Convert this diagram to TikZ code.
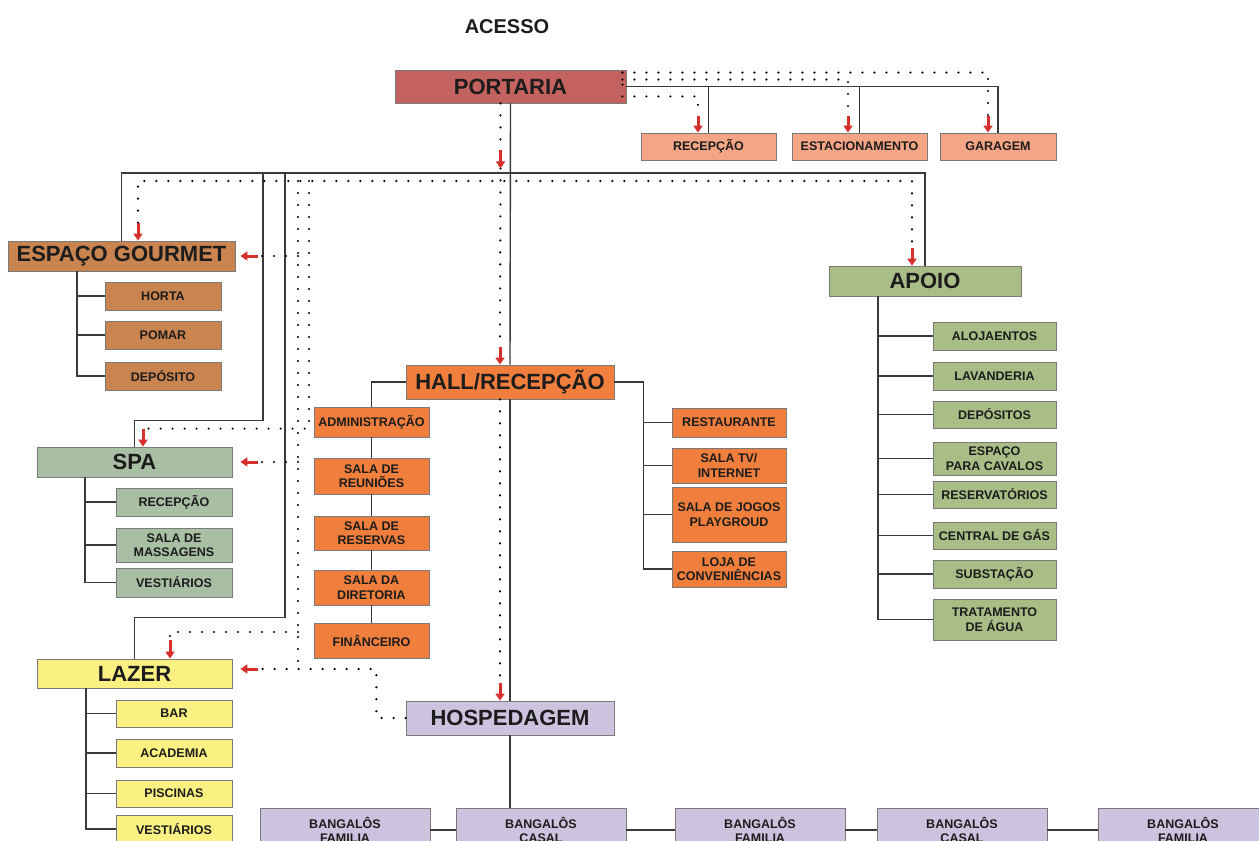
\documentclass[tikz,border=0pt]{standalone}
\usepackage{fontspec}
\setmainfont{Liberation Sans}
\usetikzlibrary{arrows.meta}
\definecolor{portariaC}{HTML}{C4625F}
\definecolor{salmonC}{HTML}{F4A585}
\definecolor{gourmetC}{HTML}{C98450}
\definecolor{spaC}{HTML}{A8BFA4}
\definecolor{lazerC}{HTML}{FAF182}
\definecolor{hallC}{HTML}{F07E3D}
\definecolor{apoioC}{HTML}{A9BD86}
\definecolor{hospC}{HTML}{CEC3DF}
\definecolor{boxline}{HTML}{7A7A7A}
\definecolor{linegray}{HTML}{3A3A3A}
\definecolor{arrred}{HTML}{D6302D}
\definecolor{txt}{HTML}{1C1C1C}
\begin{document}
\begin{tikzpicture}[x=1pt,y=-1pt,
    box/.style={draw=boxline,line width=0.8pt,inner sep=0pt,align=center,text=txt},
    bigbox/.style={box,font=\fontsize{22}{26}\selectfont\bfseries},
    smallbox/.style={box,font=\fontsize{12.5}{14.5}\selectfont\bfseries},
    tline/.style={draw=linegray,line width=1.4pt},
    dotline/.style={draw=black,line width=2.4pt,line cap=round,dash pattern=on 0pt off 12pt},
    redarr/.style={draw=arrred,line width=3pt,-{Triangle[width=9pt,length=7pt]}}]
  \useasboundingbox (0,0) rectangle (1259,841);
  \clip (0,0) rectangle (1259,841);

  \node[font=\fontsize{20}{24}\selectfont\bfseries,text=txt] (acesso) at (507,27) {ACESSO};
  \node[bigbox,fill=portariaC,minimum width=231pt,minimum height=33pt] (portaria) at (510.5,86.5) {PORTARIA};
  \node[smallbox,fill=salmonC,minimum width=135pt,minimum height=27pt] (recep) at (708.5,146.5) {RECEPÇÃO};
  \node[smallbox,fill=salmonC,minimum width=135pt,minimum height=27pt] (estac) at (859.5,146.5) {ESTACIONAMENTO};
  \node[smallbox,fill=salmonC,minimum width=116pt,minimum height=27pt] (garagem) at (998,146.5) {GARAGEM};

  \node[bigbox,fill=gourmetC,minimum width=227pt,minimum height=30pt] (gourmet) at (121.5,256) {ESPAÇO GOURMET};
  \node[smallbox,fill=gourmetC,minimum width=116pt,minimum height=28pt] (horta) at (163,296) {HORTA};
  \node[smallbox,fill=gourmetC,minimum width=116pt,minimum height=28pt] (pomar) at (163,335) {POMAR};
  \node[smallbox,fill=gourmetC,minimum width=116pt,minimum height=28pt] (depo) at (163,376) {DEPÓSITO};

  \node[bigbox,fill=spaC,minimum width=195pt,minimum height=30pt] (spa) at (134.5,462) {SPA};
  \node[smallbox,fill=spaC,minimum width=116pt,minimum height=28pt] (srecep) at (174,502) {RECEPÇÃO};
  \node[smallbox,fill=spaC,minimum width=116pt,minimum height=34pt] (massag) at (174,545) {SALA DE\\MASSAGENS};
  \node[smallbox,fill=spaC,minimum width=116pt,minimum height=29pt] (svest) at (174,582.5) {VESTIÁRIOS};

  \node[bigbox,fill=lazerC,minimum width=195pt,minimum height=29pt] (lazer) at (134.5,673.5) {LAZER};
  \node[smallbox,fill=lazerC,minimum width=116pt,minimum height=27pt] (bar) at (174,713.5) {BAR};
  \node[smallbox,fill=lazerC,minimum width=116pt,minimum height=28pt] (acad) at (174,753) {ACADEMIA};
  \node[smallbox,fill=lazerC,minimum width=116pt,minimum height=27pt] (pisc) at (174,793.5) {PISCINAS};
  \node[smallbox,fill=lazerC,minimum width=116pt,minimum height=28pt] (lvest) at (174,829) {VESTIÁRIOS};

  \node[bigbox,fill=hallC,minimum width=208pt,minimum height=34pt] (hall) at (510,382) {HALL/RECEPÇÃO};
  \node[smallbox,fill=hallC,minimum width=115pt,minimum height=30pt] (admin) at (371.5,422) {ADMINISTRAÇÃO};
  \node[smallbox,fill=hallC,minimum width=115pt,minimum height=36pt] (reun) at (371.5,476) {SALA DE\\REUNIÕES};
  \node[smallbox,fill=hallC,minimum width=115pt,minimum height=34pt] (resv) at (371.5,533) {SALA DE\\RESERVAS};
  \node[smallbox,fill=hallC,minimum width=115pt,minimum height=35pt] (dir) at (371.5,587.5) {SALA DA\\DIRETORIA};
  \node[smallbox,fill=hallC,minimum width=115pt,minimum height=35pt] (fin) at (371.5,640.5) {FINÂNCEIRO};
  \node[smallbox,fill=hallC,minimum width=114pt,minimum height=29pt] (rest) at (729,422.5) {RESTAURANTE};
  \node[smallbox,fill=hallC,minimum width=114pt,minimum height=35pt] (tv) at (729,465.5) {SALA TV/\\INTERNET};
  \node[smallbox,fill=hallC,minimum width=114pt,minimum height=55pt] (jogos) at (729,514.5) {SALA DE JOGOS\\PLAYGROUD};
  \node[smallbox,fill=hallC,minimum width=114pt,minimum height=36pt] (loja) at (729,569) {LOJA DE\\CONVENIÊNCIAS};

  \node[bigbox,fill=apoioC,minimum width=192pt,minimum height=30pt] (apoio) at (925,281) {APOIO};
  \node[smallbox,fill=apoioC,minimum width=123pt,minimum height=28pt] (aloj) at (994.5,336) {ALOJAENTOS};
  \node[smallbox,fill=apoioC,minimum width=123pt,minimum height=28pt] (lavan) at (994.5,376) {LAVANDERIA};
  \node[smallbox,fill=apoioC,minimum width=123pt,minimum height=27pt] (depos) at (994.5,414.5) {DEPÓSITOS};
  \node[smallbox,fill=apoioC,minimum width=123pt,minimum height=33pt] (cavalos) at (994.5,458.5) {ESPAÇO\\PARA CAVALOS};
  \node[smallbox,fill=apoioC,minimum width=123pt,minimum height=27pt] (reservat) at (994.5,494.5) {RESERVATÓRIOS};
  \node[smallbox,fill=apoioC,minimum width=123pt,minimum height=27pt] (gas) at (994.5,535.5) {CENTRAL DE GÁS};
  \node[smallbox,fill=apoioC,minimum width=123pt,minimum height=28pt] (subst) at (994.5,574) {SUBSTAÇÃO};
  \node[smallbox,fill=apoioC,minimum width=123pt,minimum height=41pt] (trat) at (994.5,619.5) {TRATAMENTO\\DE ÁGUA};

  \node[bigbox,fill=hospC,minimum width=208pt,minimum height=34pt] (hosp) at (510,718) {HOSPEDAGEM};
  \node[smallbox,fill=hospC,minimum width=170pt,minimum height=44pt] (bang1) at (345,830) {BANGALÔS\\FAMILIA};
  \node[smallbox,fill=hospC,minimum width=170pt,minimum height=44pt] (bang2) at (541,830) {BANGALÔS\\CASAL};
  \node[smallbox,fill=hospC,minimum width=170pt,minimum height=44pt] (bang3) at (760,830) {BANGALÔS\\FAMILIA};
  \node[smallbox,fill=hospC,minimum width=170pt,minimum height=44pt] (bang4) at (962,830) {BANGALÔS\\CASAL};
  \node[smallbox,fill=hospC,minimum width=170pt,minimum height=44pt] (bang5) at (1183,830) {BANGALÔS\\FAMILIA};

  \coordinate (bus) at (510,173);
  \coordinate (dotbus) at (500,181);
  \coordinate (colA) at (298,181);
  \coordinate (colB) at (309,181);
  \coordinate (lztop) at (298,632);

  \draw[tline] (portaria.east) -| (garagem.north);
  \draw[tline] (recep.north) -- (recep.north |- portaria.east);
  \draw[tline] (estac.north) -- (estac.north |- portaria.east);
  \draw[tline] (portaria.south) -- (hall.north);
  \draw[tline] (hall.south) -- (hosp.north);
  \draw[tline] (gourmet.north) |- (bus) -| (apoio.north);
  \draw[tline] (spa.north) |- ++(128.5,-26) |- (bus);
  \draw[tline] (lazer.north) |- ++(150.5,-41) |- (bus);

  \draw[tline] ([xshift=-44.5pt]gourmet.south) |- (depo.west);
  \draw[tline] ([xshift=-28pt]horta.west) -- (horta.west);
  \draw[tline] ([xshift=-28pt]pomar.west) -- (pomar.west);

  \draw[tline] ([xshift=-49.5pt]spa.south) |- (svest.west);
  \draw[tline] ([xshift=-31pt]srecep.west) -- (srecep.west);
  \draw[tline] ([xshift=-31pt]massag.west) -- (massag.west);

  \draw[tline] ([xshift=-48.5pt]lazer.south) |- (lvest.west);
  \draw[tline] ([xshift=-30pt]bar.west) -- (bar.west);
  \draw[tline] ([xshift=-30pt]acad.west) -- (acad.west);
  \draw[tline] ([xshift=-30pt]pisc.west) -- (pisc.west);

  \draw[tline] (hall.west) -| (admin.north);
  \draw[tline] (admin.south) -- (reun.north);
  \draw[tline] (reun.south) -- (resv.north);
  \draw[tline] (resv.south) -- (dir.north);
  \draw[tline] (dir.south) -- (fin.north);
  \draw[tline] (hall.east) -| ([xshift=-28pt]loja.west) -- (loja.west);
  \draw[tline] ([xshift=-28pt]rest.west) -- (rest.west);
  \draw[tline] ([xshift=-28pt]tv.west) -- (tv.west);
  \draw[tline] ([xshift=-28pt]jogos.west) -- (jogos.west);

  \draw[tline] ([xshift=-47pt]apoio.south) |- (trat.west);
  \draw[tline] ([xshift=-55pt]aloj.west) -- (aloj.west);
  \draw[tline] ([xshift=-55pt]lavan.west) -- (lavan.west);
  \draw[tline] ([xshift=-55pt]depos.west) -- (depos.west);
  \draw[tline] ([xshift=-55pt]cavalos.west) -- (cavalos.west);
  \draw[tline] ([xshift=-55pt]reservat.west) -- (reservat.west);
  \draw[tline] ([xshift=-55pt]gas.west) -- (gas.west);
  \draw[tline] ([xshift=-55pt]subst.west) -- (subst.west);

  \draw[tline] (hosp.south) -- (hosp.south |- bang2.north);
  \draw[tline] (bang1.east) -- (bang2.west);
  \draw[tline] (bang2.east) -- (bang3.west);
  \draw[tline] (bang3.east) -- (bang4.west);
  \draw[tline] (bang4.east) -- (bang5.west);

  \coordinate (recin) at ([xshift=-10.5pt,yshift=17pt]recep.north);
  \coordinate (estin) at ([xshift=-11.5pt,yshift=17pt]estac.north);
  \coordinate (garin) at ([xshift=-10pt,yshift=17pt]garagem.north);
  \coordinate (busin) at ([xshift=-10pt,yshift=-47pt]portaria.south);
  \coordinate (hallin) at ([xshift=-10pt,yshift=18pt]hall.north);
  \coordinate (hospin) at ([xshift=-10pt,yshift=18pt]hosp.north);
  \coordinate (gmin) at ([xshift=16.5pt,yshift=18pt]gourmet.north);
  \coordinate (apin) at ([xshift=-13pt,yshift=18pt]apoio.north);
  \coordinate (spin) at ([xshift=8.5pt,yshift=18pt]spa.north);
  \coordinate (lzin) at ([xshift=35.5pt,yshift=19pt]lazer.north);
  \coordinate (gmside) at ([xshift=23pt]gourmet.east);
  \coordinate (spside) at ([xshift=26pt]spa.east);
  \coordinate (lzside) at ([xshift=26pt,yshift=4.5pt]lazer.east);

  \draw[dotline] ([xshift=-4pt,yshift=-3pt]portaria.north east) -- ([xshift=-4pt,yshift=7pt]portaria.south east);
  \draw[dotline] ([xshift=-4pt,yshift=-3pt]portaria.north east) -| (garin);
  \draw[dotline] ([xshift=-4pt,yshift=-10pt]portaria.north east) -| (estin);
  \draw[dotline] ([xshift=-4pt,yshift=7pt]portaria.south east) -| (recin);
  \draw[dotline] ([xshift=-10pt]portaria.south) -- (busin);
  \draw[dotline] ([yshift=-18pt]busin) -- (hallin);
  \draw[dotline] ([xshift=-10pt]hall.south) -- (hospin);
  \draw[dotline] (gmin) |- (dotbus) -| (apin);
  \draw[dotline] (colA) -- (colA |- lzside);
  \draw[dotline] (colB) |- (spin);
  \draw[dotline] (colA |- gmside) -- (gmside);
  \draw[dotline] (colA |- spside) -- (spside);
  \draw[dotline] (lztop) -| (lzin);
  \draw[dotline] (hosp.west) -| ([xshift=144pt,yshift=4.5pt]lazer.east) -- (lzside);

  \draw[redarr] (recin) -- (recin |- recep.north);
  \draw[redarr] (estin) -- (estin |- estac.north);
  \draw[redarr] (garin) -- (garin |- garagem.north);
  \draw[redarr] (busin) -- ([yshift=-18pt]busin);
  \draw[redarr] (hallin) -- (hallin |- hall.north);
  \draw[redarr] (hospin) -- (hospin |- hosp.north);
  \draw[redarr] (gmin) -- (gmin |- gourmet.north);
  \draw[redarr] (apin) -- (apin |- apoio.north);
  \draw[redarr] (spin) -- (spin |- spa.north);
  \draw[redarr] (lzin) -- (lzin |- lazer.north);
  \draw[redarr] (gmside) -- ([xshift=5pt]gourmet.east);
  \draw[redarr] (spside) -- ([xshift=8pt]spa.east);
  \draw[redarr] (lzside) -- ([xshift=8pt,yshift=4.5pt]lazer.east);
\end{tikzpicture}
\end{document}
